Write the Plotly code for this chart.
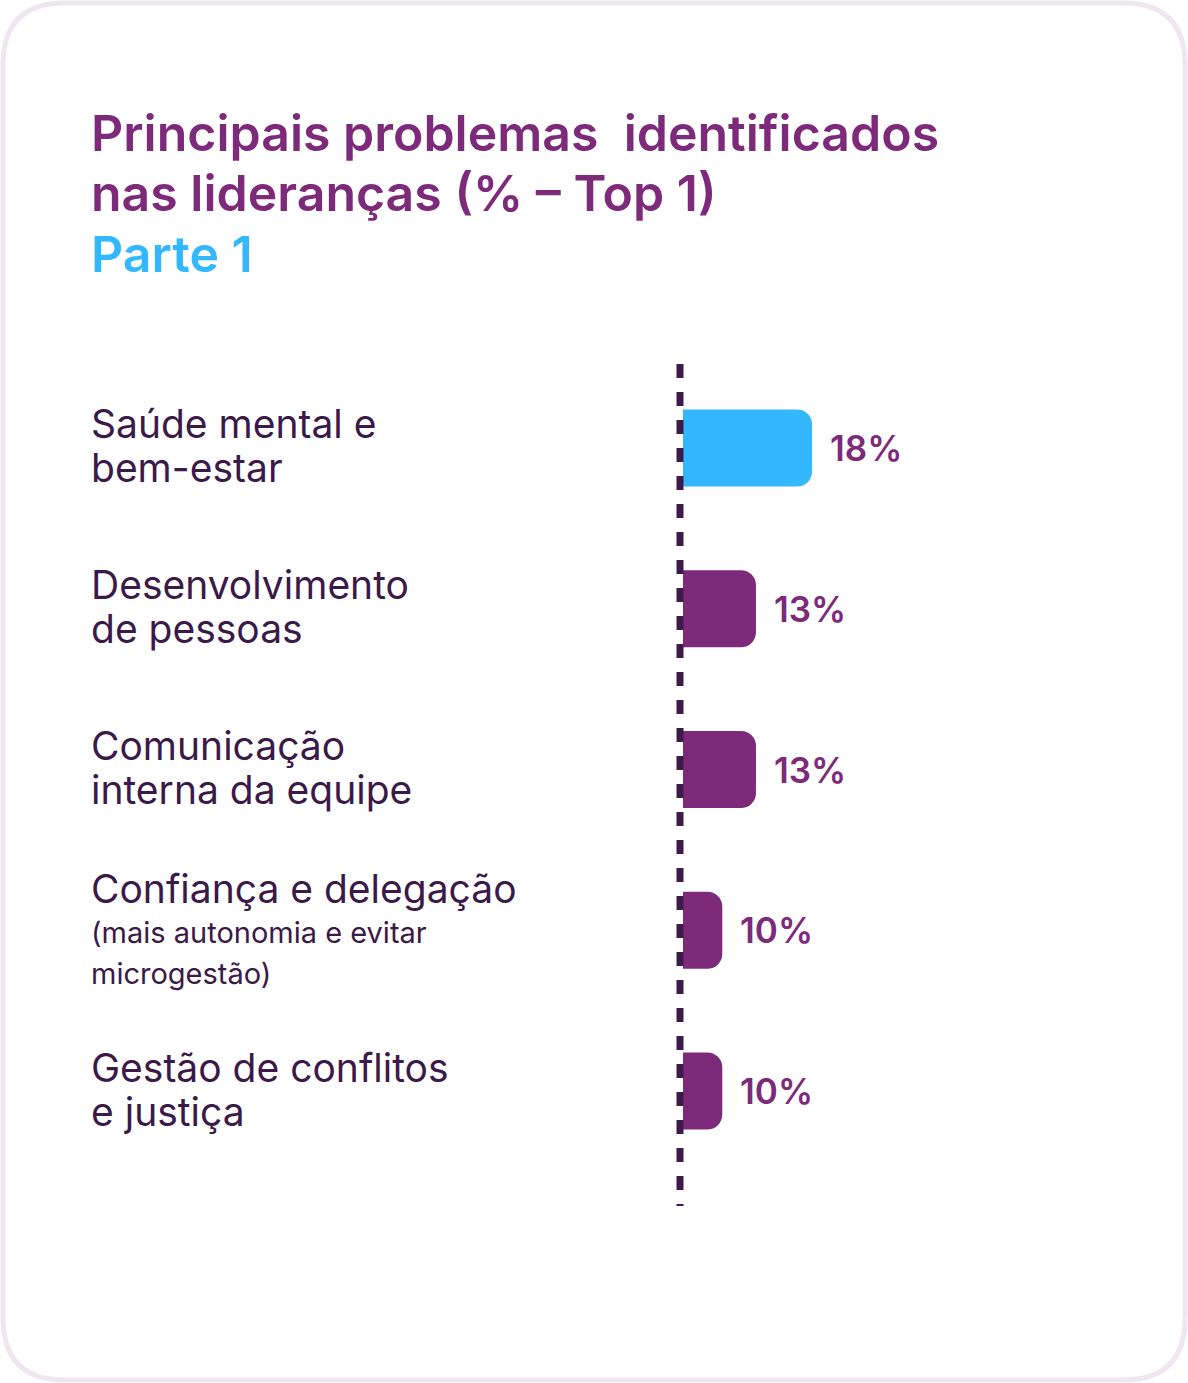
import plotly.graph_objects as go

# data
categories = ['Saúde mental e bem-estar', 'Desenvolvimento de pessoas', 'Comunicação interna da equipe',
              'Confiança e delegação', 'Gestão de conflitos e justiça']
values = [18, 13, 13, 10, 10]
value_labels = ['18%', '13%', '13%', '10%', '10%']
label_lines = [['Saúde mental e', 'bem-estar'],
               ['Desenvolvimento', 'de pessoas'],
               ['Comunicação', 'interna da equipe'],
               ['Confiança e delegação'],
               ['Gestão de conflitos', 'e justiça']]
sub_lines = [[], [], [], ['(mais autonomia e evitar', 'microgestão)'], []]
title_lines = ['Principais problemas  identificados', 'nas lideranças (% – Top 1)']
subtitle = 'Parte 1'

W, H = 1188, 1383
PURPLE = '#7E2A7B'
BLUE = '#33B8FF'
DARK = '#3B1948'
FONT = 'Inter'


def px(x):
    return x / W


def py(y):
    return 1 - y / H


def card_path(x0, y0, x1, y1, r):
    # rounded rectangle in paper coords
    return (f'M {px(x0 + r)},{py(y0)} L {px(x1 - r)},{py(y0)} Q {px(x1)},{py(y0)} {px(x1)},{py(y0 + r)} '
            f'L {px(x1)},{py(y1 - r)} Q {px(x1)},{py(y1)} {px(x1 - r)},{py(y1)} '
            f'L {px(x0 + r)},{py(y1)} Q {px(x0)},{py(y1)} {px(x0)},{py(y1 - r)} '
            f'L {px(x0)},{py(y0 + r)} Q {px(x0)},{py(y0)} {px(x0 + r)},{py(y0)} Z')


def main():
    colors = [BLUE] + [PURPLE] * (len(values) - 1)

    fig = go.Figure()
    fig.add_trace(go.Bar(x=values, y=categories, orientation='h', marker=dict(color=colors, line=dict(width=0)),
                         width=0.48, hoverinfo='skip', cliponaxis=True))

    # card background
    fig.add_shape(type='path', path=card_path(3, 3, 1185, 1380, 62), xref='paper', yref='paper',
                  line=dict(color='#EFE6EF', width=5), fillcolor='white', layer='below')
    # dashed baseline
    fig.add_shape(type='line', xref='paper', yref='paper', x0=px(680), x1=px(680), y0=py(364), y1=py(1206),
                  line=dict(color='#3D1A4A', width=7, dash='14px,14px'))

    ann = []
    # title
    for i, t in enumerate(title_lines):
        ann.append(dict(text=t, x=px(89), y=py(133 + 60 * i), xref='paper', yref='paper', xanchor='left',
                        yanchor='middle', showarrow=False,
                        font=dict(family=FONT, size=50, color=PURPLE, weight=600)))
    ann.append(dict(text=subtitle, x=px(89), y=py(254), xref='paper', yref='paper', xanchor='left',
                    yanchor='middle', showarrow=False, font=dict(family=FONT, size=50, color=BLUE, weight=600)))

    # category labels, one block per category; base size sets the line spacing (1.3em)
    for cat, lines, subs in zip(categories, label_lines, sub_lines):
        parts = [f'<span style="font-size:39px">{s}</span>' for s in lines]
        parts += [f'<span style="font-size:29px">{s}</span>' for s in subs]
        base = 31 if subs else 34
        ann.append(dict(text='<br>'.join(parts), x=px(89), y=cat, xref='paper', yref='y', xanchor='left',
                        yanchor='middle', align='left', yshift=2, showarrow=False,
                        font=dict(family=FONT, size=base, color=DARK)))

    # value labels
    for cat, v, lab in zip(categories, values, value_labels):
        ann.append(dict(text=lab, x=v, y=cat, xref='x', yref='y', xanchor='left', yanchor='middle', xshift=16,
                        showarrow=False, font=dict(family=FONT, size=35, color=PURPLE, weight=600)))

    fig.update_layout(width=W, height=H, margin=dict(l=0, r=0, t=0, b=0), paper_bgcolor='white',
                      plot_bgcolor='rgba(0,0,0,0)', showlegend=False, annotations=ann, barcornerradius=15,
                      xaxis=dict(domain=[px(683), px(1150)], range=[6.5, 48.1], visible=False, fixedrange=True),
                      yaxis=dict(domain=[py(1171.4), py(367.6)], range=[4.5, -0.5], type='category',
                                 categoryorder='array', categoryarray=categories, visible=False, fixedrange=True))

    # page margin off so the card fills the window
    fig.write_html('out.html', config={'displayModeBar': False},
                   post_script="document.body.style.margin='0';document.body.style.overflow='hidden';")


if __name__ == '__main__':
    main()
